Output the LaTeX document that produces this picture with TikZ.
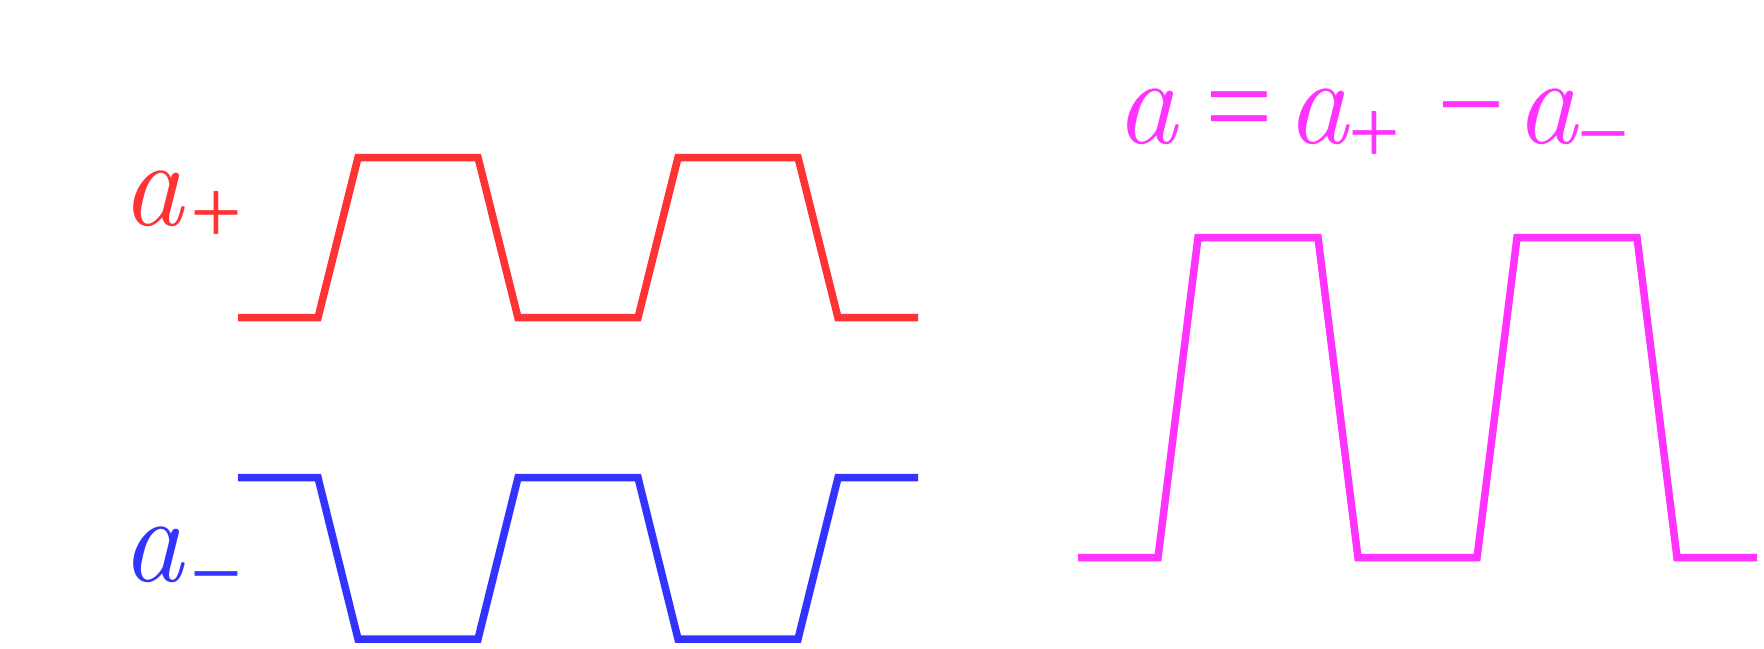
\documentclass[tikz,border=0pt]{standalone}
\usepackage{fontspec}
\newfontfamily\opfont{Liberation Serif}
\definecolor{cred}{HTML}{FF3333}
\definecolor{cblue}{HTML}{3333FF}
\definecolor{cmag}{HTML}{FF33FF}
\newcommand{\afs}{\fontsize{62pt}{66pt}\selectfont}
\newcommand{\opfs}{\opfont\fontsize{60pt}{64pt}\selectfont}
\newcommand{\subfs}{\opfont\fontsize{46pt}{50pt}\selectfont}
\newcommand{\va}{\rlap{\afs\itshape a}}
\newcommand{\gl}[2]{\rlap{\raisebox{#1}{#2}}}
\begin{document}
\begin{tikzpicture}[x=0.5pt,y=-0.5pt,
  wave/.style={line width=3.75pt,line join=miter},
  lbl/.style={inner sep=0pt,anchor=base west}]
\useasboundingbox (0,0) rectangle (1764,648);
% a+ waveform
\draw[wave,cred] (238,317.7) -- (318,317.7) -- (358,157.5) -- (478,157.5) -- (518,317.7) -- (638,317.7) -- (678,157.5) -- (798,157.5) -- (838,317.7) -- (918,317.7);
% a- waveform
\draw[wave,cblue] (238,477.7) -- (318,477.7) -- (358,639) -- (478,639) -- (518,477.7) -- (638,477.7) -- (678,639) -- (798,639) -- (838,477.7) -- (918,477.7);
% a waveform
\draw[wave,cmag] (1078,557.7) -- (1158,557.7) -- (1198,237.5) -- (1318,237.5) -- (1358,557.7) -- (1477,557.7) -- (1517,237.5) -- (1637,237.5) -- (1677,557.7) -- (1757,557.7);
% labels
\node[lbl,text=cred] (lp) at (121,225) {\va\hspace{34.5pt}\gl{-9pt}{\subfs +}\hspace{25pt}};
\node[lbl,text=cblue] (lm) at (121,581) {\va\hspace{34.5pt}\gl{-11.5pt}{\subfs −}\hspace{25pt}};
\node[lbl,text=cmag] (eq) at (1115,143) {\va\hspace{45pt}\gl{-1.5pt}{\opfs =}\hspace{40.5pt}\va\hspace{31pt}\gl{-10pt}{\subfs +}\hspace{44.5pt}\gl{-0.7pt}{\opfs −}\hspace{39pt}\va\hspace{31pt}\gl{-10.5pt}{\subfs −}\hspace{25pt}};
\end{tikzpicture}
\end{document}
